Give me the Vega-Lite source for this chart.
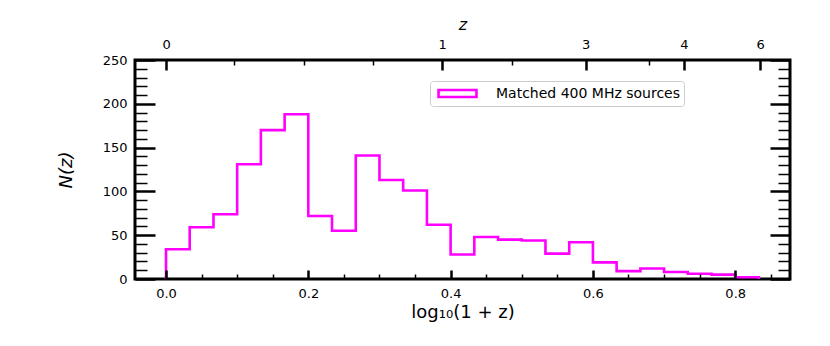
{
  "$schema": "https://vega.github.io/schema/vega-lite/v6.json",
  "autosize": "none",
  "width": 655,
  "height": 219,
  "padding": {"left": 135, "top": 60, "right": 40, "bottom": 67},
  "background": "white",
  "config": {
    "view": {"stroke": "black", "strokeWidth": 3},
    "font": "DejaVu Sans",
    "axis": {
      "domain": false,
      "grid": false,
      "labelFont": "DejaVu Sans",
      "labelFontSize": 13,
      "labelColor": "black",
      "tickColor": "black",
      "titleFont": "DejaVu Sans",
      "titleColor": "black",
      "titleFontWeight": "normal"
    }
  },
  "data": {
    "values": [
      {"seq": 0, "log1pz": 0.0, "count": 0},
      {"seq": 1, "log1pz": 0.0, "count": 34},
      {"seq": 2, "log1pz": 0.0333, "count": 59},
      {"seq": 3, "log1pz": 0.0667, "count": 74},
      {"seq": 4, "log1pz": 0.1, "count": 131},
      {"seq": 5, "log1pz": 0.1333, "count": 170},
      {"seq": 6, "log1pz": 0.1667, "count": 188},
      {"seq": 7, "log1pz": 0.2, "count": 72},
      {"seq": 8, "log1pz": 0.2333, "count": 55},
      {"seq": 9, "log1pz": 0.2667, "count": 141},
      {"seq": 10, "log1pz": 0.3, "count": 113},
      {"seq": 11, "log1pz": 0.3333, "count": 101},
      {"seq": 12, "log1pz": 0.3667, "count": 62},
      {"seq": 13, "log1pz": 0.4, "count": 28},
      {"seq": 14, "log1pz": 0.4333, "count": 48},
      {"seq": 15, "log1pz": 0.4667, "count": 45},
      {"seq": 16, "log1pz": 0.5, "count": 44},
      {"seq": 17, "log1pz": 0.5333, "count": 29},
      {"seq": 18, "log1pz": 0.5667, "count": 42},
      {"seq": 19, "log1pz": 0.6, "count": 19},
      {"seq": 20, "log1pz": 0.6333, "count": 9},
      {"seq": 21, "log1pz": 0.6667, "count": 12},
      {"seq": 22, "log1pz": 0.7, "count": 8},
      {"seq": 23, "log1pz": 0.7333, "count": 6},
      {"seq": 24, "log1pz": 0.7667, "count": 5},
      {"seq": 25, "log1pz": 0.8, "count": 2},
      {"seq": 26, "log1pz": 0.8333, "count": 2},
      {"seq": 27, "log1pz": 0.8333, "count": 0}
    ]
  },
  "resolve": {"axis": {"x": "independent", "y": "independent"}},
  "layer": [
    {
      "mark": {"type": "line", "interpolate": "step-after", "strokeWidth": 2.6, "clip": true},
      "encoding": {
        "x": {"field": "log1pz", "type": "quantitative",
              "scale": {"domain": [-0.0436, 0.877], "nice": false, "zero": false},
              "axis": {"orient": "bottom", "values": [0, 0.2, 0.4, 0.6, 0.8], "format": ".1f", "ticks": false,
                       "labelPadding": 8, "title": "log₁₀(1 + z)", "titleFontSize": 18, "titlePadding": 3}},
        "y": {"field": "count", "type": "quantitative",
              "scale": {"domain": [0, 250], "nice": false},
              "axis": {"orient": "left", "values": [0, 50, 100, 150, 200, 250], "ticks": false,
                       "labelPadding": 8, "title": "N(z)", "titleFontSize": 18, "titleFontStyle": "italic", "titlePadding": 27}},
        "order": {"field": "seq", "type": "quantitative"},
        "color": {"datum": "Matched 400 MHz sources", "type": "nominal",
                  "scale": {"range": ["#ff00ff"]},
                  "legend": {"orient": "none", "legendX": 295, "legendY": 21, "title": null,
                             "symbolType": "M-0.5,-0.44H4.3V0.44H-0.5Z", "symbolSize": 250,
                             "symbolFillColor": "transparent", "symbolStrokeColor": "#ff00ff", "symbolStrokeWidth": 2.6,
                             "labelFont": "DejaVu Sans", "labelFontSize": 14, "labelColor": "black", "labelOffset": 44,
                             "labelLimit": 500,
                             "padding": 3, "strokeColor": "#cccccc", "fillColor": "white", "cornerRadius": 3}}
      }
    },
    {
      "mark": {"type": "point", "opacity": 0},
      "encoding": {
        "x": {"field": "log1pz", "type": "quantitative",
              "axis": {"orient": "bottom", "values": [0, 0.2, 0.4, 0.6, 0.8], "labels": false, "title": null,
                       "tickSize": -9, "tickWidth": 2.5, "zindex": 2}},
        "y": {"field": "count", "type": "quantitative",
              "axis": {"orient": "left", "values": [0, 50, 100, 150, 200, 250], "labels": false, "title": null,
                       "tickSize": -20, "tickWidth": 2.5, "zindex": 2}}
      }
    },
    {
      "mark": {"type": "point", "opacity": 0},
      "encoding": {
        "x": {"field": "log1pz", "type": "quantitative",
              "axis": {"orient": "bottom", "values": [0.05, 0.1, 0.15, 0.25, 0.3, 0.35, 0.45, 0.5, 0.55, 0.65, 0.7, 0.75, 0.85],
                       "labels": false, "title": null, "tickSize": -5, "tickWidth": 1.5, "zindex": 2}},
        "y": {"field": "count", "type": "quantitative",
              "axis": {"orient": "left", "values": [10, 20, 30, 40, 60, 70, 80, 90, 110, 120, 130, 140, 160, 170, 180, 190, 210, 220, 230, 240],
                       "labels": false, "title": null, "tickSize": -12, "tickWidth": 1.5, "zindex": 2}}
      }
    },
    {
      "mark": {"type": "point", "opacity": 0},
      "encoding": {
        "x": {"field": "log1pz", "type": "quantitative",
              "axis": {"orient": "top", "values": [0, 0.388, 0.5896, 0.728, 0.835], "ticks": false,
                       "labelExpr": "datum.value < 0.1 ? '0' : datum.value < 0.5 ? '1' : datum.value < 0.65 ? '3' : datum.value < 0.78 ? '4' : '6'",
                       "labelPadding": 9, "title": "z", "titleFontSize": 16, "titleFontStyle": "italic", "titlePadding": 6}},
        "y": {"field": "count", "type": "quantitative",
              "axis": {"orient": "right", "values": [0, 50, 100, 150, 200, 250], "labels": false, "title": null,
                       "tickSize": -20, "tickWidth": 2.5, "zindex": 2}}
      }
    },
    {
      "mark": {"type": "point", "opacity": 0},
      "encoding": {
        "x": {"field": "log1pz", "type": "quantitative",
              "axis": {"orient": "top", "values": [0, 0.388, 0.5896, 0.728, 0.835], "labels": false, "title": null,
                       "tickSize": -10, "tickWidth": 2.5, "zindex": 2}},
        "y": {"field": "count", "type": "quantitative",
              "axis": {"orient": "right", "values": [10, 20, 30, 40, 60, 70, 80, 90, 110, 120, 130, 140, 160, 170, 180, 190, 210, 220, 230, 240],
                       "labels": false, "title": null, "tickSize": -12, "tickWidth": 1.5, "zindex": 2}}
      }
    },
    {
      "mark": {"type": "point", "opacity": 0},
      "encoding": {
        "x": {"field": "log1pz", "type": "quantitative",
              "axis": {"orient": "top", "values": [0.0957, 0.1933, 0.2909, 0.486, 0.679], "labels": false, "title": null,
                       "tickSize": -5, "tickWidth": 1.5, "zindex": 2}},
        "y": {"field": "count", "type": "quantitative", "axis": null}
      }
    }
  ]
}
